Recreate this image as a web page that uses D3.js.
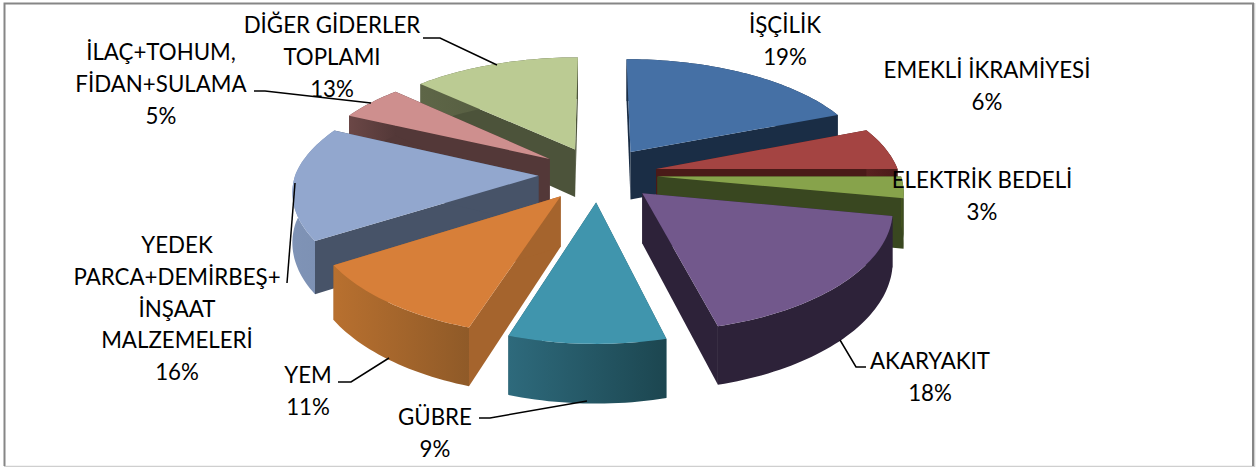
<!DOCTYPE html>
<html><head><meta charset="utf-8">
<script src="https://cdn.jsdelivr.net/npm/d3@7"></script>
<style>html,body{margin:0;padding:0;background:#fff}svg{display:block}text{font-family:Lato,"Open Sans",sans-serif;font-size:22.3px;fill:#000}</style>
</head><body>
<svg id="c" width="1258" height="467"></svg>
<script>
const categories=["İŞÇİLİK","EMEKLİ İKRAMİYESİ","ELEKTRİK BEDELİ","AKARYAKIT","GÜBRE","YEM","YEDEK PARCA+DEMİRBEŞ+ İNŞAAT MALZEMELERİ","İLAÇ+TOHUM, FİDAN+SULAMA","DİĞER GİDERLER TOPLAMI"];
const values=[19,6,3,18,9,11,16,5,13];
const labelLines=[["İŞÇİLİK"],["EMEKLİ İKRAMİYESİ"],["ELEKTRİK BEDELİ"],["AKARYAKIT"],["GÜBRE"],["YEM"],["YEDEK","PARCA+DEMİRBEŞ+","İNŞAAT","MALZEMELERİ"],["İLAÇ+TOHUM,","FİDAN+SULAMA"],["DİĞER GİDERLER","TOPLAMI"]];
const topColors=["#4570a5","#a44442","#87a34b","#72588c","#4095ad","#d77f39","#92a7ce","#ce8f8e","#bbcb93"];
const sideColors=["#1a2d45","#4a1a18","#394720","#2d2239","#235763","#a5642d","#475368","#533838","#4c533a"];
const rimFrom=["#1a2d45","#5a2220","#46561f","#2d2239","#2e6a7c","#b8702f","#7f93b6","#6b4746","#5e6647"];
const rimTo=["#1a2d45","#4a1a18","#394720","#2d2239","#1c4650","#8f5a28","#7c90b2","#533838","#4c533a"];
const paintOrder=[0,8,1,7,2,6,3,5,4];
// label layout: centre x, first-line y, leader polyline
const labelPos=[[785,25],[987,70],[982,180],[930,361],[435,417],[308,375],[177,245],[161,52],[332,25]];
const leaders=[null,null,null,[[840,340],[856,367],[866,367]],[[479,418],[490,418],[587,401]],[[338,382],[351,382],[389,358]],[[295,183],[287,283]],[[254,91],[265,91],[371,103]],[[423,38],[440,38],[497,65]]];

const cx=598,cy=174,B=243,A=112,P=0.144,PX=0.118,EX=0.245,H=49;
const svg=d3.select("#c");
const defs=svg.append("defs");
const frame=svg.append("g").attr("fill","none");
frame.append("path").attr("d","M1254.5,3V466.5H4").attr("stroke","#cfcfcf").attr("stroke-width",1.5);
frame.append("path").attr("d","M4.5,466V3.5H1253V466").attr("stroke","#868686").attr("stroke-width",2);

function proj(x,y,z){const d=1-P*y,dx=1-(y>0?PX:P)*y;return [cx+B*x/dx,cy+(A*y+z*H)/d];}
const pie=d3.pie().sort(null).value(d=>d);
const arcs=pie(values);
const line=d3.line();
paintOrder.forEach(i=>{
  const a=arcs[i],mid=(a.startAngle+a.endAngle)/2;
  const ox=EX*Math.sin(mid),oy=-EX*Math.cos(mid);
  const pt=(t,z)=>proj(ox+Math.sin(t),oy-Math.cos(t),z);
  const apex=z=>proj(ox,oy,z);
  const n=Math.max(8,Math.ceil((a.endAngle-a.startAngle)*40));
  const ts=d3.range(n+1).map(k=>a.startAngle+(a.endAngle-a.startAngle)*k/n);
  const g=svg.append("g").attr("class","slice").datum(categories[i]);
  const id="rim"+i;
  const xs=ts.map(t=>pt(t,0)[0]);
  const lg=defs.append("linearGradient").attr("id",id).attr("gradientUnits","userSpaceOnUse")
    .attr("x1",d3.min(xs)).attr("x2",d3.max(xs)).attr("y1",0).attr("y2",0);
  lg.append("stop").attr("offset",0).attr("stop-color",rimFrom[i]);
  lg.append("stop").attr("offset",1).attr("stop-color",rimTo[i]);
  [a.startAngle,a.endAngle].forEach(t=>{
    g.append("path").attr("d",line([apex(0),pt(t,0),pt(t,1),apex(1)])+"Z").attr("fill",sideColors[i]);
  });
  const top=ts.map(t=>pt(t,0)),bot=ts.map(t=>pt(t,1)).reverse();
  g.append("path").attr("d",line(top.concat(bot))+"Z").attr("fill",`url(#${id})`);
  g.append("path").attr("d",line([apex(0)].concat(top))+"Z").attr("fill",topColors[i]);
});
leaders.forEach(l=>{ if(l) svg.append("path").attr("d",line(l)).attr("fill","none").attr("stroke","#000").attr("stroke-width",1.5); });
const total=d3.sum(values);
labelLines.forEach((ls,i)=>{
  const lines=ls.concat([d3.format(".0%")(values[i]/total)]);
  lines.forEach((s,k)=>{
    svg.append("text").attr("x",labelPos[i][0]).attr("y",labelPos[i][1]+k*31.8+8).attr("text-anchor","middle").text(s);
  });
});
</script>
</body></html>
